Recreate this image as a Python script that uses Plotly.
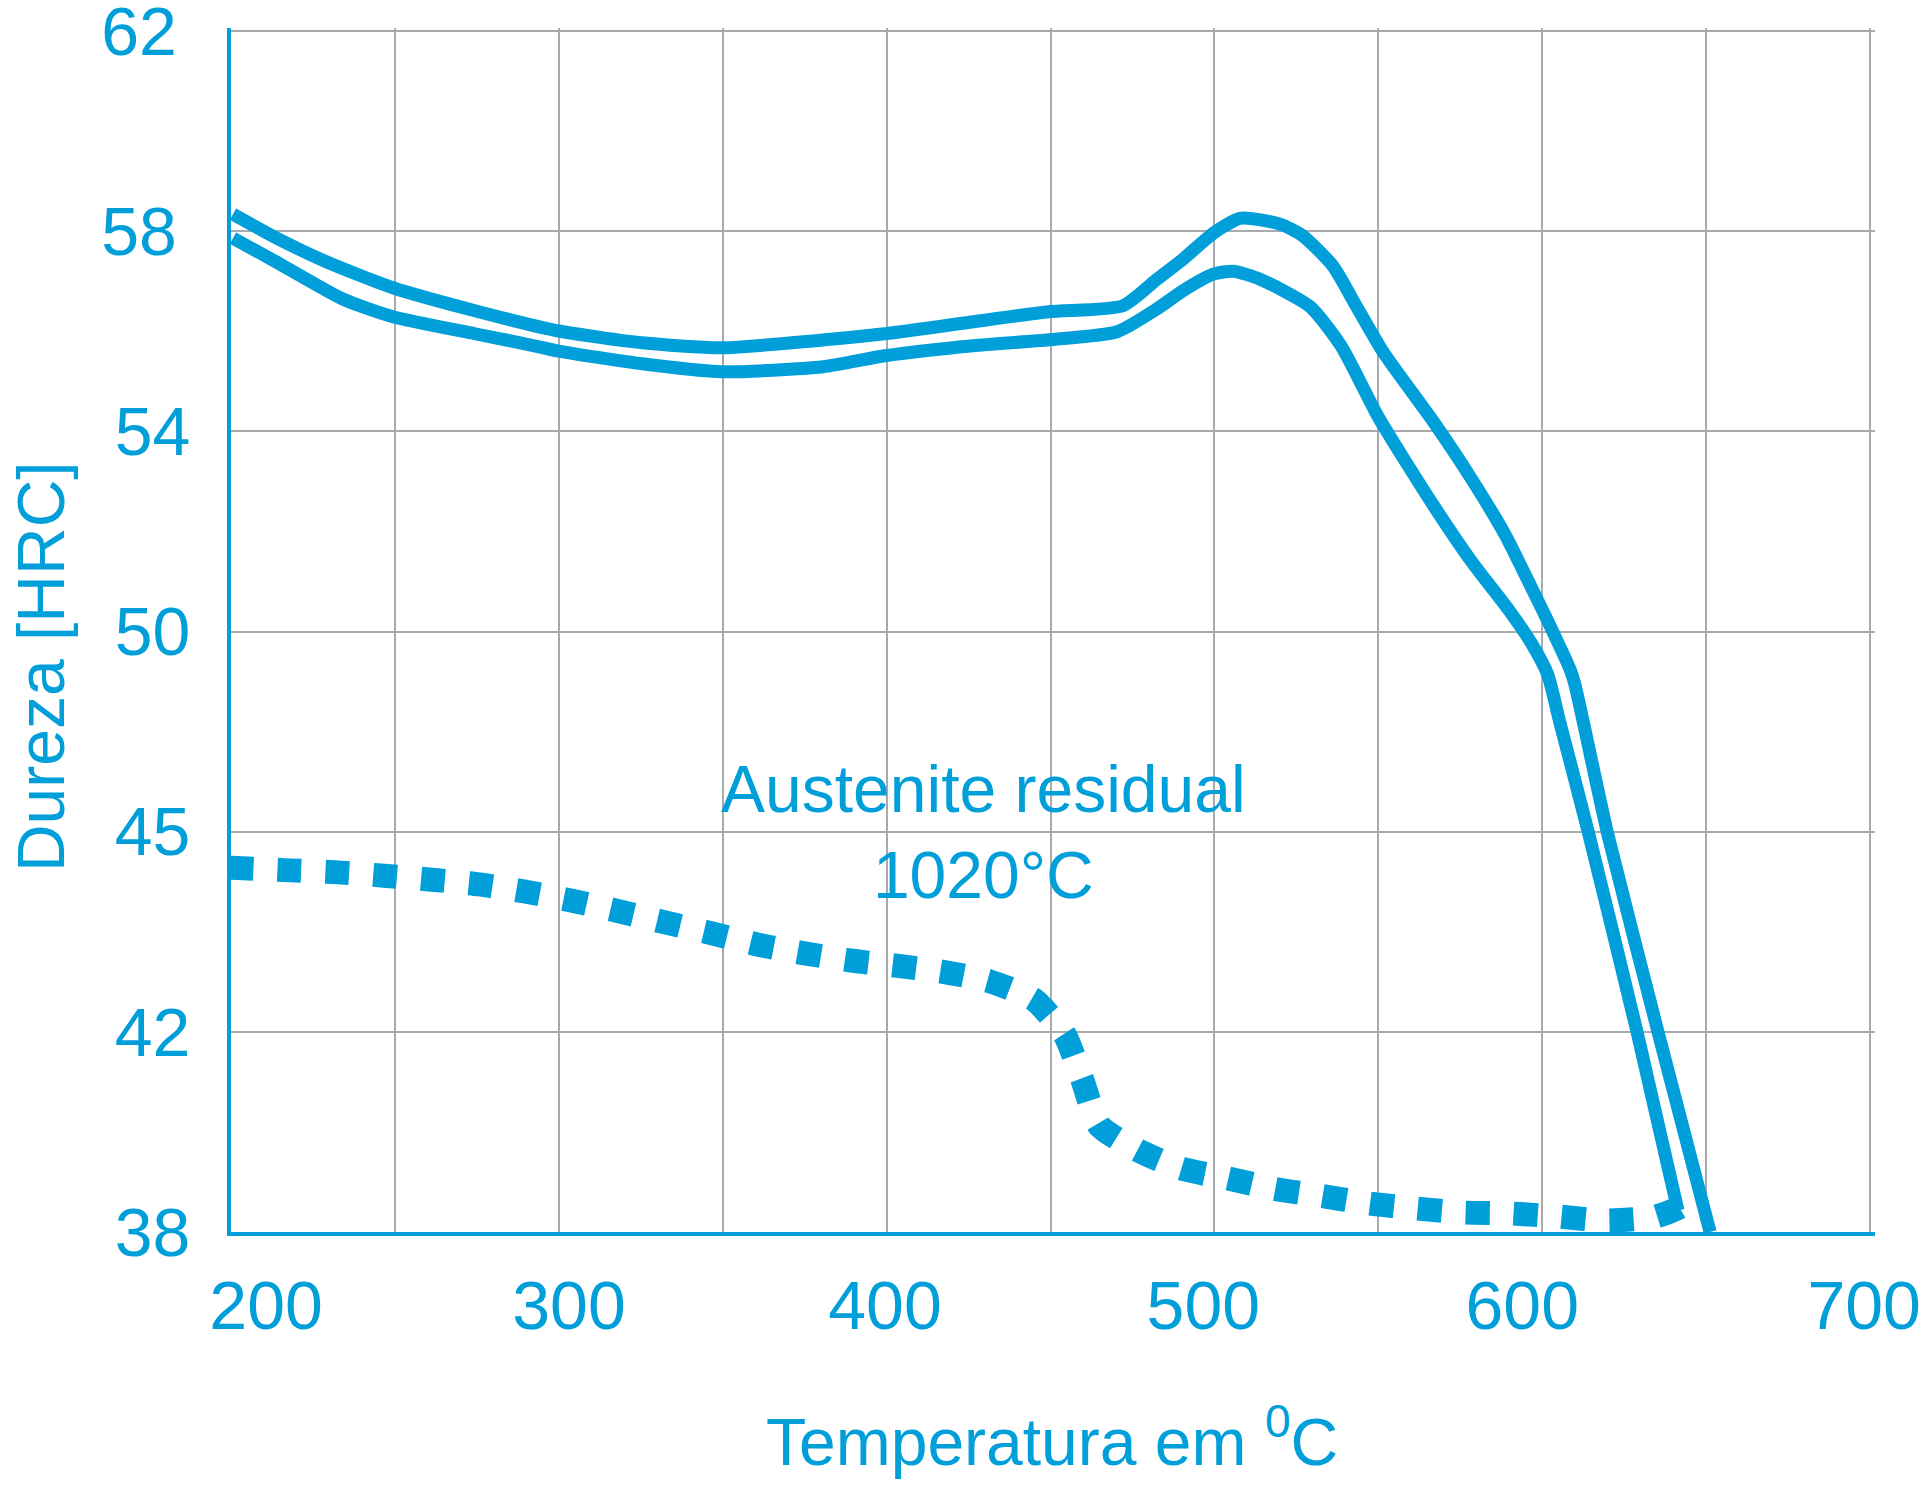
import numpy as np
import plotly.graph_objects as go

BLUE = "#009FDA"
GRID = "#A8ABAE"
FONT = "Liberation Sans, Arial, sans-serif"

# Y axis: non-linear hardness scale (equally spaced gridlines)
y_ticks = [38, 42, 45, 50, 54, 58, 62]
y_ticktext = ["38", "42", "45", "50", "54", "58\u2009", "62\u2009"]
# X axis
x_grid = [200, 250, 300, 350, 400, 450, 500, 550, 600, 650, 700]
x_label_text = ["200", "300", "400", "500", "600", "700"]
x_label_pos = [210.7, 303.1, 399.5, 496.6, 593.9, 698.2]

# Upper hardness curve
t_upper = [200.6, 213.4, 228.7, 249.4, 274.4, 299.5, 325.4, 349.8, 399.5, 426.4, 449.5,
           472.1, 482.5, 490.4, 500.1, 508.1, 520.0, 526.9, 536.2, 543.2, 551.4, 566.7,
           578.3, 588.7, 595.7, 601.6, 608.6, 610.0, 619.8, 635.3, 651.2]
h_upper = [58.34, 57.88, 57.40, 56.87, 56.41, 56.01, 55.77, 55.67, 55.95, 56.19, 56.39,
           56.51, 57.04, 57.44, 57.98, 58.26, 58.14, 57.91, 57.30, 56.51, 55.59, 54.20,
           53.06, 51.93, 51.01, 50.22, 49.03, 48.66, 45.00, 42.00, 38.00]

# Lower hardness curve
t_lower = [200.6, 213.4, 233.9, 249.4, 274.4, 289.7, 299.5, 325.4, 349.8, 380.6, 399.5,
           426.4, 449.5, 470.3, 482.5, 490.4, 499.6, 505.7, 513.9, 529.2, 538.6, 550.2,
           566.7, 578.3, 589.9, 596.9, 601.6, 605.4, 614.0, 628.9, 641.4]
h_lower = [57.86, 57.40, 56.65, 56.29, 55.95, 55.75, 55.61, 55.35, 55.19, 55.29, 55.51,
           55.71, 55.83, 55.99, 56.45, 56.81, 57.14, 57.20, 57.04, 56.49, 55.71, 54.26,
           52.53, 51.41, 50.42, 49.68, 48.94, 47.72, 45.00, 42.00, 38.43]

# Residual austenite (dotted)
t_aus = [199.5, 217.7, 232.6, 246.7, 261.3, 275.7, 290.0, 303.7, 318.1, 332.4, 346.4,
         360.5, 374.5, 388.8, 403.2, 417.2, 431.2, 445.0, 454.3, 459.6, 464.8, 477.0,
         489.8, 504.1, 518.5, 532.8, 547.2, 561.5, 575.5, 590.4, 604.7, 619.2, 633.5,
         640.5, 646.6]
h_aus = [44.46, 44.42, 44.39, 44.34, 44.28, 44.21, 44.10, 43.97, 43.81, 43.64, 43.48,
         43.31, 43.18, 43.07, 42.99, 42.90, 42.76, 42.48, 41.94, 41.06, 40.13, 39.62,
         39.27, 39.07, 38.86, 38.72, 38.57, 38.47, 38.39, 38.37, 38.31, 38.23, 38.29,
         38.45, 38.70]

tick_pos = [float(i) for i in range(len(y_ticks))]


def ypos(h):
    return np.interp(np.asarray(h, dtype=float), y_ticks, tick_pos)


fig = go.Figure()
fig.add_trace(go.Scatter(x=t_aus, y=ypos(h_aus), mode="lines",
                         line=dict(color=BLUE, width=24, dash="dot", shape="spline", smoothing=0.6),
                         showlegend=False, hoverinfo="skip"))
fig.add_trace(go.Scatter(x=t_upper, y=ypos(h_upper), mode="lines",
                         line=dict(color=BLUE, width=13, shape="spline", smoothing=0.6),
                         showlegend=False, hoverinfo="skip"))
fig.add_trace(go.Scatter(x=t_lower, y=ypos(h_lower), mode="lines",
                         line=dict(color=BLUE, width=13, shape="spline", smoothing=0.6),
                         showlegend=False, hoverinfo="skip"))
# invisible trace to activate the label axis
fig.add_trace(go.Scatter(x=[x_label_pos[0]], y=[0], xaxis="x2", mode="markers",
                         marker=dict(opacity=0), showlegend=False, hoverinfo="skip"))

fig.update_layout(
    width=1920, height=1489, autosize=False,
    margin=dict(l=231, r=45, t=28, b=257, autoexpand=False),
    paper_bgcolor="white", plot_bgcolor="white",
    font=dict(family=FONT, color=BLUE, size=68),
    xaxis=dict(range=[200, 701.5], tickmode="array", tickvals=x_grid, showticklabels=False,
               showgrid=True, gridcolor=GRID, gridwidth=2, zeroline=False,
               showline=True, linecolor=BLUE, linewidth=4, ticks=""),
    xaxis2=dict(range=[200, 701.5], overlaying="x", side="bottom", anchor="y",
                tickmode="array", tickvals=x_label_pos, ticktext=x_label_text,
                showgrid=False, zeroline=False, showline=False, ticks="",
                ticklabeloverflow="allow",
                tickfont=dict(family=FONT, color=BLUE, size=68), ticklabelstandoff=28),
    yaxis=dict(range=[0, 6.015], tickmode="array", tickvals=tick_pos, ticktext=y_ticktext,
               showgrid=True, gridcolor=GRID, gridwidth=2, zeroline=False,
               showline=True, linecolor=BLUE, linewidth=4, ticks="",
               ticklabeloverflow="allow",
               tickfont=dict(family=FONT, color=BLUE, size=68), ticklabelstandoff=23),
    annotations=[
        dict(text="Dureza [HRC]", xref="paper", yref="paper", x=-0.1156, y=0.47,
             textangle=-90, showarrow=False, xanchor="center", yanchor="middle",
             font=dict(family=FONT, color=BLUE, size=66)),
        dict(text="Temperatura em <sup>0</sup>C", xref="paper", yref="paper", x=0.4994, y=-0.17,
             showarrow=False, xanchor="center", yanchor="middle",
             font=dict(family=FONT, color=BLUE, size=66)),
        dict(text="Austenite residual<br>1020°C", xref="paper", yref="paper", x=0.4578, y=0.332,
             showarrow=False, xanchor="center", yanchor="middle",
             font=dict(family=FONT, color=BLUE, size=66)),
    ],
)

post = (
    "document.documentElement.style.margin='0';"
    "document.documentElement.style.overflow='hidden';"
    "document.body.style.margin='0';"
    "document.body.style.overflow='hidden';"
    "Plotly.relayout('{plot_id}', {width: 1920, height: 1489});"
)
fig.write_html("out.html", config={"displayModeBar": False, "responsive": False},
               post_script=post)
